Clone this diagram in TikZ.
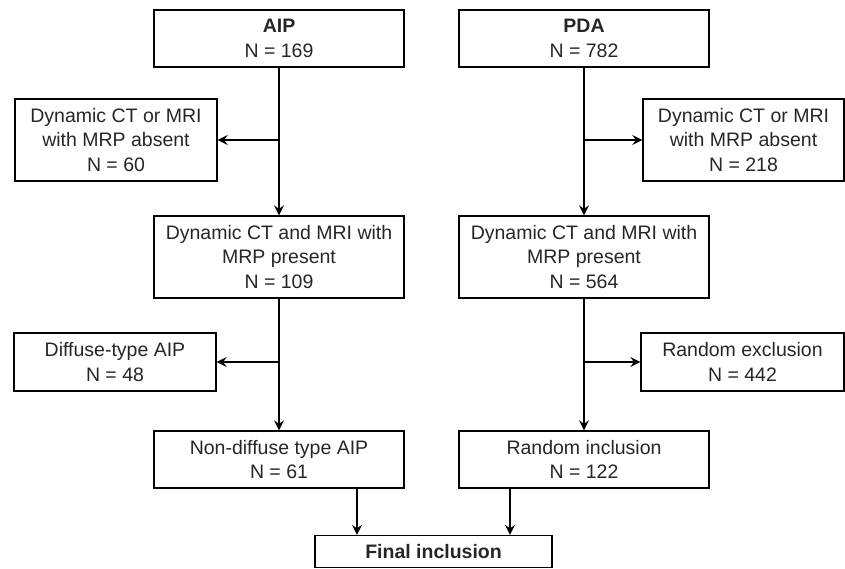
\documentclass[tikz,border=0pt]{standalone}
\usepackage{fontspec}
\setmainfont{Liberation Sans}
\usetikzlibrary{arrows.meta}
\begin{document}
\begin{tikzpicture}[x=1pt,y=-1pt,
  box/.style={draw=black, line width=1.3pt, rectangle, align=center, inner sep=0pt,
    font=\fontsize{19.5}{24.5}\selectfont, text=black!85},
  arr/.style={line width=1.3pt, -{Stealth[length=10pt,width=10pt,inset=3.5pt]}}]
\useasboundingbox (0,0) rectangle (845,569);
\node[box, minimum width=250pt, minimum height=57pt] (aip) at (279,38.5) {\textbf{AIP}\\N = 169};
\node[box, minimum width=250pt, minimum height=57pt] (pda) at (584,38.5) {\textbf{PDA}\\N = 782};
\node[box, minimum width=202pt, minimum height=82pt] (exl) at (116,140) {Dynamic CT or MRI\\with MRP absent\\N = 60};
\node[box, minimum width=201pt, minimum height=82pt] (exr) at (743.5,140) {Dynamic CT or MRI\\with MRP absent\\N = 218};
\node[box, minimum width=250pt, minimum height=82pt] (midl) at (279,257) {Dynamic CT and MRI with\\MRP present\\N = 109};
\node[box, minimum width=250pt, minimum height=82pt] (midr) at (584,257) {Dynamic CT and MRI with\\MRP present\\N = 564};
\node[box, minimum width=202pt, minimum height=58pt] (dif) at (115,362) {Diffuse-type AIP\\N = 48};
\node[box, minimum width=203pt, minimum height=58pt] (rex) at (742.5,362) {Random exclusion\\N = 442};
\node[box, minimum width=250pt, minimum height=57pt] (ndif) at (279,459.5) {Non-diffuse type AIP\\N = 61};
\node[box, minimum width=250pt, minimum height=57pt] (rinc) at (584,459.5) {Random inclusion\\N = 122};
\node[box, minimum width=237pt, minimum height=32pt] (fin) at (433.5,551.5) {\textbf{Final inclusion}};
\draw[arr] (aip) -- (midl);
\draw[arr] (aip.south |- exl.east) -- (exl.east);
\draw[arr] (pda) -- (midr);
\draw[arr] (pda.south |- exr.west) -- (exr.west);
\draw[arr] (midl) -- (ndif);
\draw[arr] (midl.south |- dif.east) -- (dif.east);
\draw[arr] (midr) -- (rinc);
\draw[arr] (midr.south |- rex.west) -- (rex.west);
\draw[arr] ([xshift=78pt]ndif.south) -- ([xshift=78pt]ndif.south |- fin.north);
\draw[arr] ([xshift=-74pt]rinc.south) -- ([xshift=-74pt]rinc.south |- fin.north);
\end{tikzpicture}
\end{document}
